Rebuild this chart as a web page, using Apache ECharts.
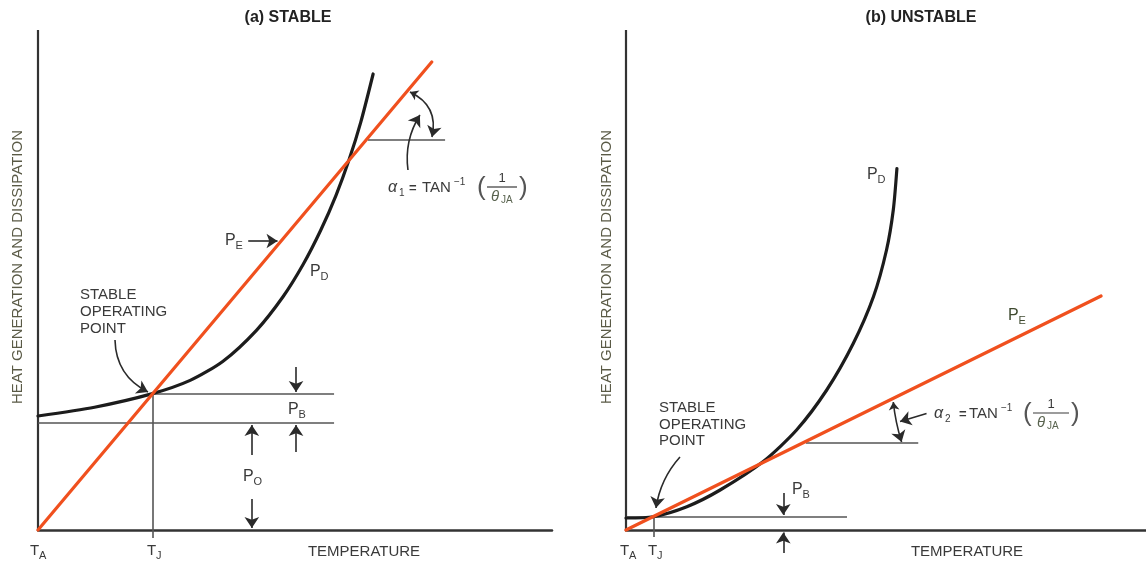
<!DOCTYPE html>
<html><head><meta charset="utf-8">
<script src="https://cdn.jsdelivr.net/npm/echarts@6/dist/echarts.min.js"></script>
<style>html,body{margin:0;padding:0;background:#fff}#c{width:1146px;height:563px}</style>
</head><body><div id="c"></div>
<script>
// ---- data (temperature vs. heat, arbitrary units) ----
const stableTemp   = [0, 11, 22.1, 29.6, 36, 42.5, 47.7, 51.6, 55, 58, 60.5, 62.8, 65.2];
const stablePD     = [22.8, 24.56, 27.22, 29.92, 33.76, 39.94, 46.7, 53.14, 59.94, 66.99, 73.99, 81.58, 91.2];
const stablePETemp = [0, 76.6];
const stablePE     = [0, 93.6];
const unstableTemp   = [0, 5.25, 11.7, 18.1, 26.4, 32.8, 38.6, 43.7, 47.6, 50.1, 51.4, 52.1];
const unstablePD     = [2.4, 2.66, 4.66, 8, 13.7, 20, 28, 37.3, 46.7, 56, 64, 72.3];
const unstablePETemp = [0, 91.35];
const unstablePE     = [0, 46.8];
const panelTitles = ['(a) STABLE', '(b) UNSTABLE'];
const yName = 'HEAT GENERATION AND DISSIPATION';
const xName = 'TEMPERATURE';

// ---- styling / layout ----
const FONT = '"Liberation Sans", Arial, sans-serif';
const TXT = '#3a3a3a';
const OLIVE = '#5a5a46';
const ORANGE = '#f0501e';
const BLACK = '#1c1c1c';
const GRAYL = '#555';
const ARR = '#2a2a2a';

function pairs(xs, ys) { return xs.map((x, i) => [x, ys[i]]); }
function seg(a, b, o) {
  o = o || {};
  return { coords: [a, b], symbol: [o.s0 || 'none', o.s1 || 'none'], symbolSize: o.size || [8, 11],
    lineStyle: { color: o.color || GRAYL, width: o.width || 1.6, type: 'solid', opacity: 1, curveness: o.curve || 0 } };
}
function A(a, b, extra) { return seg(a, b, Object.assign({ color: ARR, width: 1.6, s1: 'arrow' }, extra || {})); }

const leftMarks = [
  seg([0, 0], [0, 100], { color: '#333', width: 2.2 }),
  seg([21.8, 27.2], [57.6, 27.2]),
  seg([0, 21.4], [57.6, 21.4]),
  seg([22.4, 27.2], [22.4, -1.6]),
  seg([64.2, 78], [79.2, 78]),
  A([72.37, 87.6], [76.65, 78.6], { s0: 'arrow', curve: 0.4 }),
  A([71.98, 72], [74.3, 83], { curve: 0.18 }),
  A([40.9, 57.8], [46.6, 57.8]),
  A([14.98, 38], [21.4, 27.6], { curve: -0.3 }),
  A([50.2, 32.6], [50.2, 27.6]),
  A([50.2, 15.6], [50.2, 21.0]),
  A([41.6, 15], [41.6, 21.0]),
  A([41.6, 6.2], [41.6, 0.4])
];
const rightMarks = [
  seg([0, 0], [0, 100], { color: '#333', width: 2.2 }),
  seg([0, 2.6], [42.5, 2.6]),
  seg([5.25, 2.6], [5.25, -1.4]),
  seg([34.6, 17.4], [56.2, 17.4]),
  A([30.25, 7.4], [30.25, 3.0]),
  A([30.25, -4.6], [30.25, -0.5]),
  A([51.4, 25.6], [53.0, 17.6], { s0: 'arrow', curve: -0.05 }),
  A([57.8, 23.3], [52.7, 21.7]),
  A([10.38, 14.6], [5.77, 4.4], { curve: -0.15 })
];

function T(x, y, text, size, o) {
  o = o || {};
  return { type: 'text', x: x, y: y, rotation: o.rot || 0, z: 20, silent: true,
    style: { text: text, fill: o.color || TXT,
      font: (o.style || 'normal') + ' ' + (o.weight || 'normal') + ' ' + size + 'px ' + FONT,
      align: o.align || 'left', verticalAlign: o.va || 'middle' } };
}
function P(x, y, sub, o) {
  return [T(x, y, 'P', 16, o), T(x + 10.5, y + 5, sub, 11, o)];
}
function TT(x, y, sub) {
  return [T(x, y, 'T', 15), T(x + 9, y + 5, sub, 11)];
}
function bar(x1, x2, y) {
  return { type: 'line', z: 20, silent: true, shape: { x1: x1, y1: y, x2: x2, y2: y }, style: { stroke: TXT, lineWidth: 1.2 } };
}
function formula(y, sub, pts) {
  return [
    T(pts.a, y, 'α', 16, { style: 'italic' }),
    T(pts.a + 11, y + 5, sub, 10),
    T(pts.eq, y, '=', 13, { weight: 'bold' }),
    T(pts.tan, y, 'TAN', 15),
    T(pts.tan + 32, y - 6, '−1', 10),
    T(pts.lp, y, '(', 26, { color: '#555' }),
    T(pts.num, y - 10, '1', 13, { align: 'center' }),
    bar(pts.lp + 10, pts.rp - 2, y - 1),
    T(pts.lp + 14, y + 9, 'θ', 15, { style: 'italic', color: '#5a6450' }),
    T(pts.lp + 24, y + 12, 'JA', 10, { color: '#5a6450' }),
    T(pts.rp, y, ')', 26, { color: '#555' })
  ];
}

const graphics = [].concat(
  T(288, 18, panelTitles[0], 16, { weight: 'bold', align: 'center', color: '#222' }),
  T(921, 18, panelTitles[1], 16, { weight: 'bold', align: 'center', color: '#222' }),
  T(18, 267, yName, 15, { rot: Math.PI / 2, align: 'center', color: OLIVE }),
  T(607, 267, yName, 15, { rot: Math.PI / 2, align: 'center', color: OLIVE }),
  T(364, 552, xName, 15, { align: 'center' }),
  T(967, 552, xName, 15, { align: 'center' }),
  TT(30, 551, 'A'), TT(147, 551, 'J'), TT(620, 551, 'A'), TT(648, 551, 'J'),
  P(225, 241, 'E'), P(310, 272, 'D'), P(288, 410, 'B'), P(243, 477, 'O'),
  P(867, 175, 'D'), P(1008, 316, 'E', { color: '#3f4a30' }), P(792, 490, 'B'),
  T(80, 295, 'STABLE', 15), T(80, 312, 'OPERATING', 15), T(80, 329, 'POINT', 15),
  T(659, 408, 'STABLE', 15), T(659, 425, 'OPERATING', 15), T(659, 441, 'POINT', 15),
  formula(188, '1', { a: 388, eq: 409, tan: 422, lp: 477, num: 502, rp: 519 }),
  formula(414, '2', { a: 934, eq: 959, tan: 969, lp: 1023, num: 1051, rp: 1071 })
);

function axes(i) {
  return {
    x: { type: 'value', gridIndex: i, min: 0, max: 100,
      axisLine: { show: true, onZero: true, lineStyle: { color: '#333', width: 2.5 } },
      axisTick: { show: false }, axisLabel: { show: false }, splitLine: { show: false } },
    y: { type: 'value', gridIndex: i, min: -6, max: 100,
      axisLine: { show: false }, axisTick: { show: false }, axisLabel: { show: false }, splitLine: { show: false } }
  };
}
const a0 = axes(0), a1 = axes(1);

function curve(xi, data, color, smooth, z) {
  return { type: 'line', xAxisIndex: xi, yAxisIndex: xi, data: data, smooth: smooth,
    showSymbol: false, symbol: 'none', clip: false, silent: true, z: z,
    lineStyle: { color: color, width: 3.2, cap: 'round' }, emphasis: { disabled: true } };
}
function marks(xi, data) {
  return { type: 'lines', coordinateSystem: 'cartesian2d', xAxisIndex: xi, yAxisIndex: xi,
    data: data, silent: true, z: 3, clip: false, animation: false,
    symbol: ['none', 'none'], symbolSize: [8, 11],
    lineStyle: { opacity: 1 }, emphasis: { disabled: true } };
}

const chart = echarts.init(document.getElementById('c'));
chart.setOption({
  animation: false,
  backgroundColor: '#fff',
  grid: [
    { left: 38, top: 30, width: 514, height: 530 },
    { left: 626, top: 30, width: 520, height: 530 }
  ],
  xAxis: [a0.x, a1.x],
  yAxis: [a0.y, a1.y],
  series: [
    marks(0, leftMarks),
    marks(1, rightMarks),
    curve(0, pairs(stableTemp, stablePD), BLACK, 0.25, 4),
    curve(0, pairs(stablePETemp, stablePE), ORANGE, false, 5),
    curve(1, pairs(unstableTemp, unstablePD), BLACK, 0.25, 4),
    curve(1, pairs(unstablePETemp, unstablePE), ORANGE, false, 5)
  ],
  graphic: graphics
});
</script>
</body></html>
